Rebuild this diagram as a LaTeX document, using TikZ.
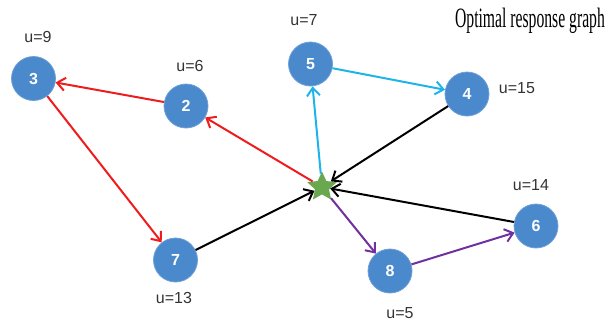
\documentclass[tikz,border=0pt]{standalone}
\usepackage{fontspec}
\setmainfont{Liberation Serif}
\newfontfamily\labelfont{Liberation Sans}
\usetikzlibrary{arrows.meta,shapes.geometric}
\definecolor{nodeblue}{HTML}{4A89CC}
\definecolor{nodeedge}{HTML}{6FA0D8}
\definecolor{edgered}{HTML}{EE1C1C}
\definecolor{edgecyan}{HTML}{1EB4EA}
\definecolor{edgepurple}{HTML}{7030A0}
\definecolor{stargreen}{HTML}{6AA84F}
\definecolor{labelgray}{HTML}{333333}
\tikzset{
  agent/.style={circle, fill=nodeblue, draw=nodeedge, line width=0.8bp,
    minimum size=44bp, inner sep=0pt, text=white,
    font=\labelfont\fontsize{16bp}{16bp}\selectfont\bfseries},
  ulabel/.style={text=labelgray, inner sep=0pt,
    font=\labelfont\fontsize{16bp}{16bp}\selectfont},
  link/.style={line width=2bp, -{Straight Barb[length=8bp,width=13bp,line width=2bp]}},
  hub/.style={star, star points=5, star point ratio=2.1, fill=stargreen,
    minimum size=31bp, inner sep=0pt}
}
\begin{document}
\begin{tikzpicture}[x=1bp,y=-1bp]
\useasboundingbox (0,0) rectangle (606,322);

% agents
\node[agent] (n3) at (33.5,78.5) {3};
\node[agent] (n2) at (186,106) {2};
\node[agent] (n5) at (310.5,64) {5};
\node[agent] (n4) at (467,94) {4};
\node[agent] (n6) at (536,226) {6};
\node[agent] (n8) at (390,271) {8};
\node[agent] (n7) at (175.5,260) {7};
\node[hub] (s) at (322,187) {};

% utilities
\node[ulabel] (u3) at (38,37) {u=9};
\node[ulabel] (u2) at (190,66) {u=6};
\node[ulabel] (u5) at (304,20) {u=7};
\node[ulabel] (u4) at (517,88) {u=15};
\node[ulabel] (u6) at (531,185) {u=14};
\node[ulabel] (u8) at (400,313) {u=5};
\node[ulabel] (u7) at (174,298) {u=13};

% title
\node[inner sep=0pt, xscale=0.56, font=\fontsize{28bp}{28bp}\selectfont] (title) at (530,21) {Optimal response graph};

% red chain
\draw[link, edgered] (s) -- (n2);
\draw[link, edgered] (n2) -- (n3);
\draw[link, edgered] (n3) -- (n7);
% cyan chain
\draw[link, edgecyan] (s) -- (n5);
\draw[link, edgecyan] (n5) -- (n4);
% purple chain
\draw[link, edgepurple] (s) -- (n8);
\draw[link, edgepurple] (n8) -- (n6);
% black links into the hub
\draw[link, black] (n4) -- (s);
\draw[link, black] (n6) -- (s);
\draw[link, black] (n7) -- (s);
\end{tikzpicture}
\end{document}
